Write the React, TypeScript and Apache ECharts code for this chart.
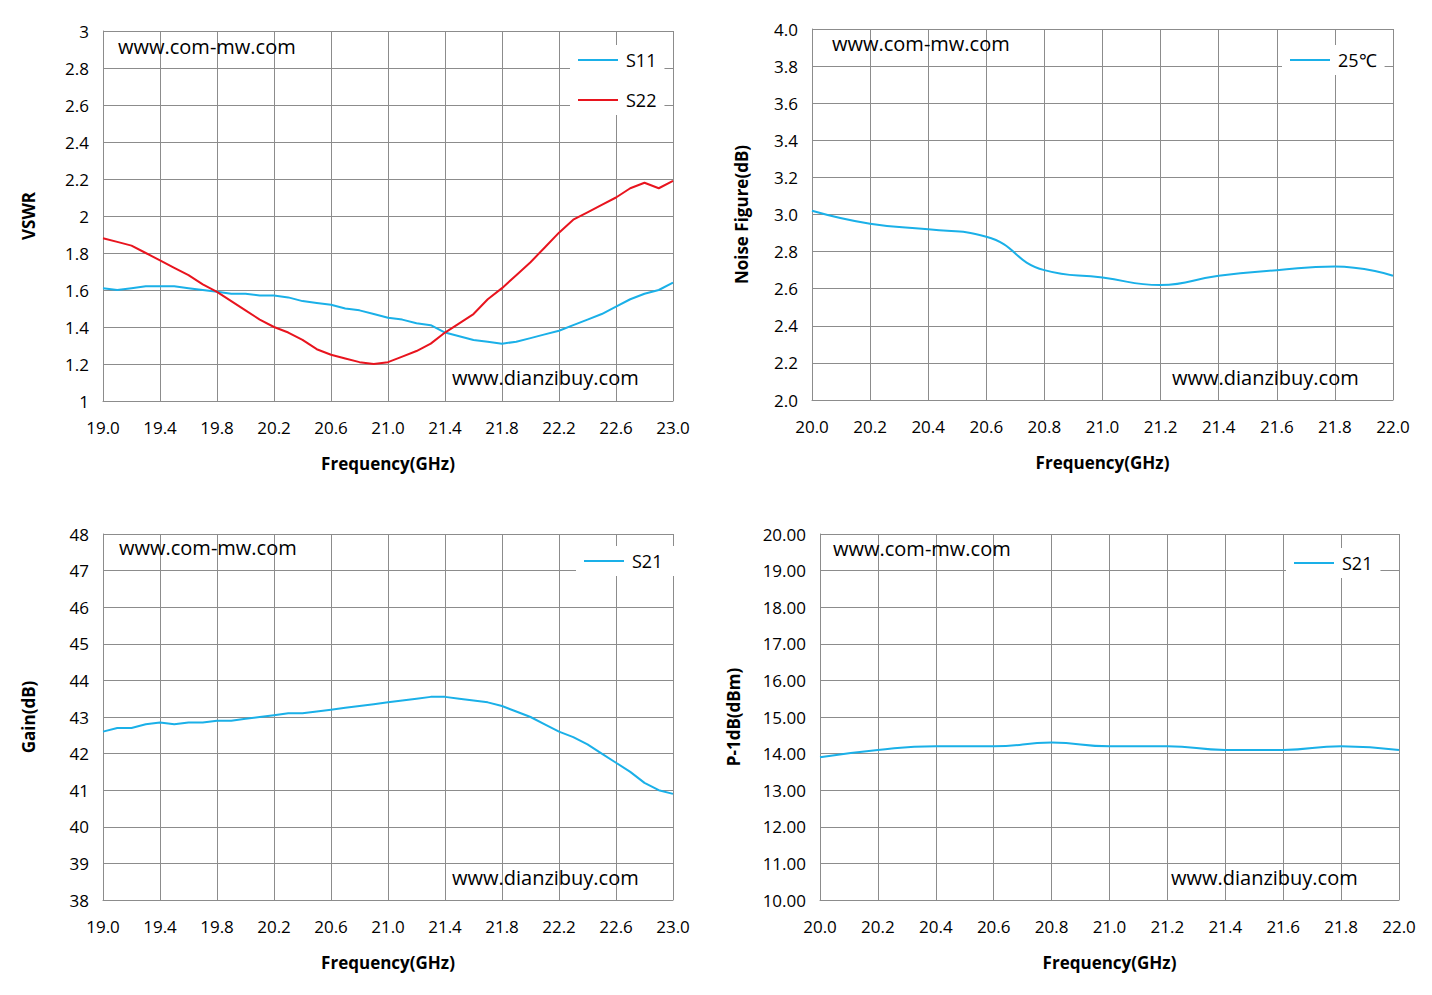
import React, { useRef, useEffect } from "react"
import * as echarts from "echarts"

const freqA = [19.0, 19.1, 19.2, 19.3, 19.4, 19.5, 19.6, 19.7, 19.8, 19.9, 20.0, 20.1, 20.2, 20.3, 20.4, 20.5, 20.6, 20.7, 20.8, 20.9, 21.0, 21.1, 21.2, 21.3, 21.4, 21.5, 21.6, 21.7, 21.8, 21.9, 22.0, 22.1, 22.2, 22.3, 22.4, 22.5, 22.6, 22.7, 22.8, 22.9, 23.0]
const s11 = [1.61, 1.6, 1.61, 1.62, 1.62, 1.62, 1.61, 1.6, 1.59, 1.58, 1.58, 1.57, 1.57, 1.56, 1.54, 1.53, 1.52, 1.5, 1.49, 1.47, 1.45, 1.44, 1.42, 1.41, 1.37, 1.35, 1.33, 1.32, 1.31, 1.32, 1.34, 1.36, 1.38, 1.41, 1.44, 1.47, 1.51, 1.55, 1.58, 1.6, 1.64]
const s22 = [1.88, 1.86, 1.84, 1.8, 1.76, 1.72, 1.68, 1.63, 1.59, 1.54, 1.49, 1.44, 1.4, 1.37, 1.33, 1.28, 1.25, 1.23, 1.21, 1.2, 1.21, 1.24, 1.27, 1.31, 1.37, 1.42, 1.47, 1.55, 1.61, 1.68, 1.75, 1.83, 1.91, 1.98, 2.02, 2.06, 2.1, 2.15, 2.18, 2.15, 2.19]
const gain = [42.6, 42.7, 42.7, 42.8, 42.85, 42.8, 42.85, 42.85, 42.9, 42.9, 42.95, 43.0, 43.05, 43.1, 43.1, 43.15, 43.2, 43.25, 43.3, 43.35, 43.4, 43.45, 43.5, 43.55, 43.55, 43.5, 43.45, 43.4, 43.3, 43.15, 43.0, 42.8, 42.6, 42.45, 42.25, 42.0, 41.75, 41.5, 41.2, 41.0, 40.9]
const freqB = [20.0, 20.2, 20.4, 20.6, 20.8, 21.0, 21.2, 21.4, 21.6, 21.8, 22.0]
const nf = [3.02, 2.95, 2.92, 2.88, 2.7, 2.66, 2.62, 2.67, 2.7, 2.72, 2.67]
const p1db = [13.9, 14.1, 14.2, 14.2, 14.3, 14.2, 14.2, 14.1, 14.1, 14.2, 14.1]

const FONT = "Open Sans"
const GRID_C = "#8c8c8c"
const BLUE = "#1ab0e8"
const RED = "#e8141e"

const zip = (xs: number[], ys: number[]) => xs.map((x, i) => [x, ys[i]])

export default function App() {
  const ref = useRef<HTMLDivElement>(null)

  useEffect(() => {
    document.body.style.margin = "0"
    if (!ref.current) return
    const chart = echarts.init(ref.current, null, { renderer: "svg" })

    const grids = [
      { left: 103, top: 31, width: 570, height: 370 },
      { left: 812, top: 29, width: 581, height: 371 },
      { left: 103, top: 534, width: 570, height: 366 },
      { left: 820, top: 534, width: 579, height: 366 },
    ]
    const xCfg = [
      { min: 19, max: 23, interval: 0.4 },
      { min: 20, max: 22, interval: 0.2 },
      { min: 19, max: 23, interval: 0.4 },
      { min: 20, max: 22, interval: 0.2 },
    ]
    const yCfg = [
      { min: 1, max: 3, interval: 0.2, name: "VSWR", fmt: (v: number) => String(+v.toFixed(1)) },
      { min: 2, max: 4, interval: 0.2, name: "Noise Figure(dB)", fmt: (v: number) => v.toFixed(1) },
      { min: 38, max: 48, interval: 1, name: "Gain(dB)", fmt: (v: number) => String(v) },
      { min: 10, max: 20, interval: 1, name: "P-1dB(dBm)", fmt: (v: number) => v.toFixed(2) },
    ]
    const lbl = { color: "#000", fontFamily: FONT, fontSize: 17 }
    const nameStyle = { color: "#000", fontFamily: FONT, fontSize: 17, fontWeight: "bold" as const }

    const xAxis = xCfg.map((c, i) => ({
      type: "value", gridIndex: i, min: c.min, max: c.max, interval: c.interval,
      name: "Frequency(GHz)", nameLocation: "middle", nameGap: 54, nameTextStyle: nameStyle,
      axisLabel: { ...lbl, margin: 18, formatter: (v: number) => v.toFixed(1) },
      axisTick: { show: false },
      axisLine: { lineStyle: { color: GRID_C } },
      splitLine: { lineStyle: { color: GRID_C, width: 1 } },
    }))
    const yAxis = yCfg.map((c, i) => ({
      type: "value", gridIndex: i, min: c.min, max: c.max, interval: c.interval,
      name: c.name, nameLocation: "middle", nameGap: i === 1 ? 62 : i === 3 ? 78 : 66, nameTextStyle: nameStyle,
      axisLabel: { ...lbl, margin: 14, formatter: c.fmt },
      axisTick: { show: false },
      axisLine: { show: true, lineStyle: { color: GRID_C } },
      splitLine: { lineStyle: { color: GRID_C, width: 1 } },
    }))
    const line = (name: string, i: number, data: number[][], color: string, smooth = false) => ({
      name, type: "line", xAxisIndex: i, yAxisIndex: i, data, smooth, symbol: "none",
      lineStyle: { color, width: 2 }, itemStyle: { color },
    })
    const series = [
      line("S11", 0, zip(freqA, s11), BLUE),
      line("S22", 0, zip(freqA, s22), RED),
      line("25℃", 1, zip(freqB, nf), BLUE, true),
      { ...line("S21", 2, zip(freqA, gain), BLUE), name: "S21 " },
      line("S21", 3, zip(freqB, p1db), BLUE, true),
    ]
    const legendBase = {
      orient: "vertical", icon: "path://M0,0H40V2H0Z", itemWidth: 46, itemHeight: 2, itemGap: 22,
      backgroundColor: "#fff", padding: [6, 8, 6, 8],
      textStyle: { color: "#000", fontFamily: FONT, fontSize: 18 },
    }
    const legend = [
      { ...legendBase, data: ["S11", "S22"], left: 570, top: 45 },
      { ...legendBase, data: ["25℃"], left: 1282, top: 45 },
      { ...legendBase, data: ["S21 "], left: 576, top: 546 },
      { ...legendBase, data: ["S21"], left: 1286, top: 548 },
    ]
    const wm = (text: string, x: number, y: number) => ({
      type: "text", left: x, top: y, z: 100,
      style: { text, fill: "#000", font: `20px "${FONT}"` },
    })
    const graphic = [
      wm("www.com-mw.com", 118, 36), wm("www.dianzibuy.com", 452, 367),
      wm("www.com-mw.com", 832, 33), wm("www.dianzibuy.com", 1172, 367),
      wm("www.com-mw.com", 119, 537), wm("www.dianzibuy.com", 452, 867),
      wm("www.com-mw.com", 833, 538), wm("www.dianzibuy.com", 1171, 867),
    ]

    chart.setOption({
      animation: false,
      backgroundColor: "#fff",
      grid: grids,
      xAxis, yAxis, series, legend, graphic,
    })
    return () => chart.dispose()
  }, [])

  return <div ref={ref} style={{ width: 1432, height: 995 }} />
}
